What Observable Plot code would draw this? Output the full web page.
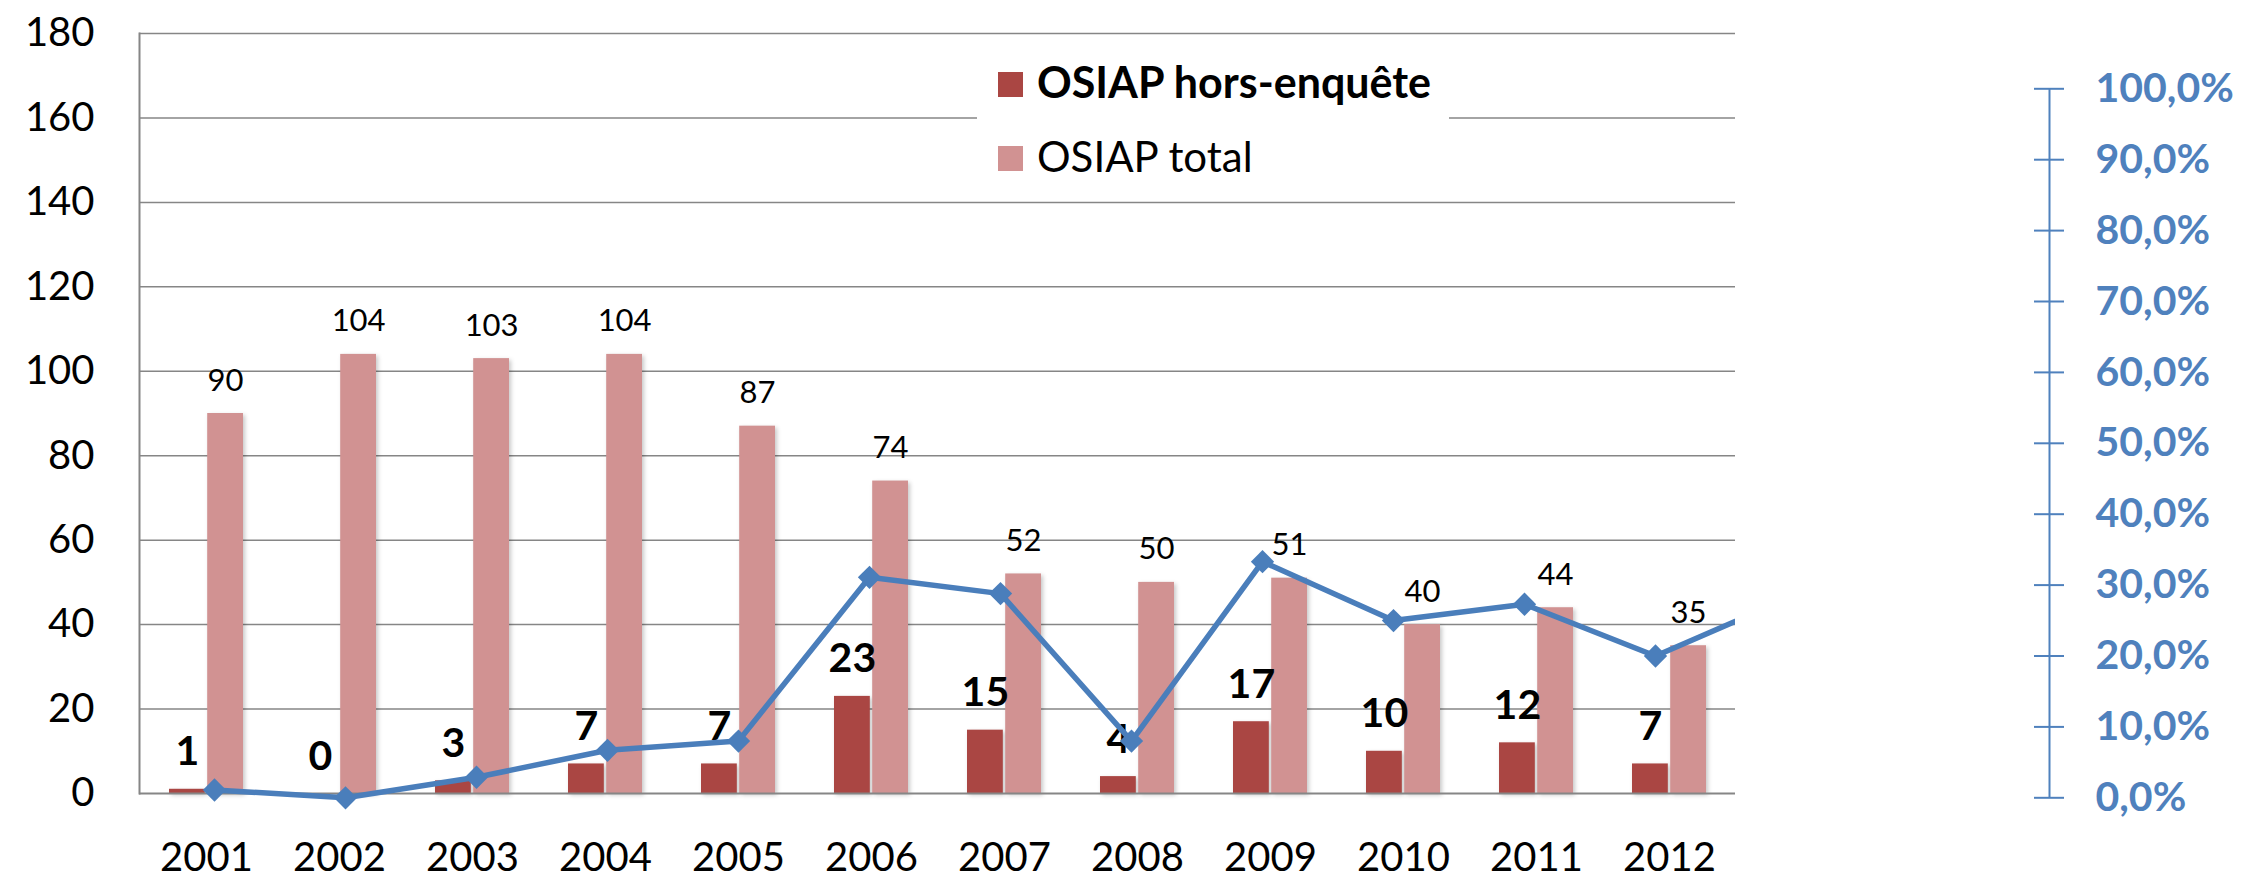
<!DOCTYPE html>
<html>
<head>
<meta charset="utf-8">
<script src="https://cdn.jsdelivr.net/npm/d3@7"></script>
<script src="https://cdn.jsdelivr.net/npm/@observablehq/plot@0.6"></script>
<style>
  body { margin: 0; background: #fff; }
  #chart { position: relative; width: 2241px; height: 876px; background: #fff; }
  #chart > svg { position: absolute; left: 0; top: 0; }
</style>
</head>
<body>
<div id="chart"></div>
<script>
// ---- Data ----
const years = ["2001","2002","2003","2004","2005","2006","2007","2008","2009","2010","2011","2012"];
const horsEnquete = [1, 0, 3, 7, 7, 23, 15, 4, 17, 10, 12, 7];
const osiapTotal = [90, 104, 103, 104, 87, 74, 52, 50, 51, 40, 44, 35];
// share of "hors-enquête" (secondary axis); the line runs on past 2012 and is cut at the plot edge
const lineYears = ["2001","2002","2003","2004","2005","2006","2007","2008","2009","2010","2011","2012","2013"];
const pctHorsEnquete = [0.011, 0.0, 0.029, 0.067, 0.080, 0.311, 0.288, 0.080, 0.333, 0.250, 0.273, 0.200, 0.280];
const countTicks = [0, 20, 40, 60, 80, 100, 120, 140, 160, 180];
const pctTicks = [0, 0.1, 0.2, 0.3, 0.4, 0.5, 0.6, 0.7, 0.8, 0.9, 1.0];
const seriesNames = ["OSIAP hors-enquête", "OSIAP total"];
const seriesColors = ["#AA4643", "#D19292"];
const lineColor = "#4A7EBB";
const axisBlue = "#4F81BD";

// ---- Layout ----
const W = 2241, H = 876;
const FONT = "Lato, 'Open Sans', sans-serif";
const rows = years.map((y, i) => ({year: y, hors: horsEnquete[i], total: osiapTotal[i]}));
const lineRows = lineYears.map((y, i) => ({year: y, pct: pctHorsEnquete[i]}));

const main = Plot.plot({
  width: W, height: H,
  marginLeft: 139, marginRight: 506, marginTop: 33, marginBottom: 83,
  style: {fontFamily: FONT, fontSize: "40px", color: "#000", background: "transparent", overflow: "visible"},
  x: {domain: years, paddingInner: 0.446, paddingOuter: 0.223, label: null},
  y: {domain: [0, 180], label: null},
  marks: [
    Plot.ruleY(countTicks.slice(1), {stroke: "#868686", strokeWidth: 1.5}),
    Plot.barY(rows, {x: "year", y: "hors", fill: seriesColors[0], insetRight: 38.2}),
    Plot.barY(rows, {x: "year", y: "total", fill: seriesColors[1], insetLeft: 38.2}),
    Plot.ruleY([0], {stroke: "#868686", strokeWidth: 2}),
    Plot.frame({anchor: "left", stroke: "#868686", strokeWidth: 2}),
    Plot.axisY({ticks: countTicks, tickSize: 0, tickPadding: 45, label: null}),
    Plot.axisX({tickSize: 0, tickPadding: 49, label: null}),
    Plot.text(rows, {x: "year", y: "hors", text: d => String(d.hors), dx: -19.1, dy: -24,
      lineAnchor: "bottom", fontWeight: "bold", fontSize: 41, fill: "#000"}),
    Plot.text(rows, {x: "year", y: "total", text: d => String(d.total), dx: 19.1, dy: -23,
      lineAnchor: "bottom", fontSize: 31, fill: "#000"})
  ]
});
d3.select(main).selectAll('g[aria-label="bar"]').style("filter", "drop-shadow(2px 2px 2px rgba(0,0,0,0.22))");

const linePlot = Plot.plot({
  width: W, height: H,
  marginLeft: 139, marginRight: 506, marginTop: 0, marginBottom: 0,
  style: {background: "transparent"},
  x: {type: "point", domain: lineYears, range: [213.3, 1786.5], padding: 0, axis: null},
  y: {domain: [0, 1], range: [797.3, 88.3], axis: null},
  marks: [
    Plot.line(lineRows, {x: "year", y: "pct", stroke: lineColor, strokeWidth: 5.5, clip: true}),
    Plot.dot(lineRows, {x: "year", y: "pct", symbol: "diamond2", r: 10.5, fill: lineColor, stroke: "none", clip: true})
  ]
});

const rightAxis = Plot.plot({
  width: W, height: H,
  marginLeft: 2034, marginRight: 177, marginTop: 0, marginBottom: 0,
  style: {fontFamily: FONT, fontSize: "41px", fontWeight: "bold", color: axisBlue, background: "transparent", overflow: "visible"},
  x: {domain: [0, 1], axis: null},
  y: {domain: [0, 1], range: [797.3, 88.3], label: null},
  marks: [
    Plot.ruleX([0.5], {y1: 0, y2: 1, stroke: axisBlue, strokeWidth: 2}),
    Plot.tickY(pctTicks, {stroke: axisBlue, strokeWidth: 2}),
    Plot.axisY({anchor: "right", ticks: pctTicks, tickSize: 0, tickPadding: 31, label: null,
      fill: axisBlue, tickFormat: d => (d * 100).toFixed(1).replace(".", ",") + "%"})
  ]
});

const chart = document.getElementById("chart");
chart.appendChild(main);
chart.appendChild(linePlot);
chart.appendChild(rightAxis);

// ---- Legend (white box over the gridlines, like the original) ----
const legend = d3.create("svg")
  .attr("width", W).attr("height", H)
  .style("font-family", FONT).style("pointer-events", "none");
legend.append("rect").attr("x", 977).attr("y", 38).attr("width", 472).attr("height", 157).attr("fill", "#fff");
const items = legend.selectAll("g.item").data(seriesNames).join("g").attr("class", "item")
  .attr("transform", (d, i) => `translate(998,${72 + i * 74})`);
items.append("rect").attr("width", 25).attr("height", 25).attr("fill", (d, i) => seriesColors[i]);
items.append("text").attr("x", 39).attr("y", 26).attr("font-size", (d, i) => i === 0 ? 43 : 42)
  .attr("font-weight", (d, i) => i === 0 ? "bold" : "normal").attr("fill", "#000").text(d => d);
chart.insertBefore(legend.node(), linePlot);
</script>
</body>
</html>
